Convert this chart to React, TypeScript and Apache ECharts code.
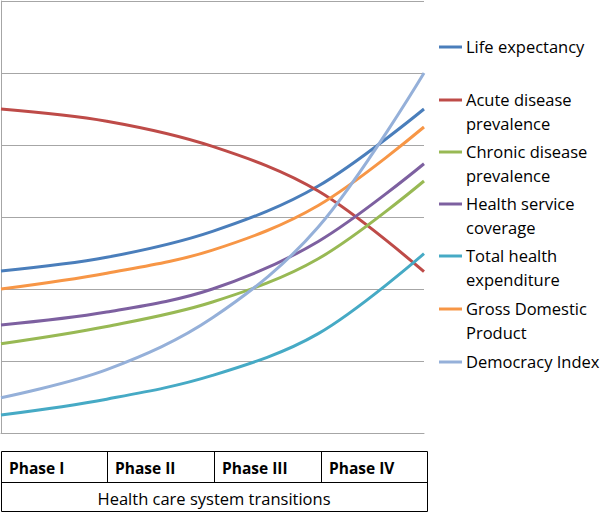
import React, { useEffect, useRef } from "react";
import * as echarts from "echarts";

const categories = ["P0", "P1", "P2", "P3", "P4"];
const lifeExpectancy = [2.25, 2.44, 2.8, 3.43, 4.5];
const acuteDisease = [4.5, 4.33, 3.98, 3.36, 2.24];
const chronicDisease = [1.24, 1.48, 1.82, 2.42, 3.5];
const healthCoverage = [1.5, 1.68, 2.0, 2.66, 3.74];
const totalExpenditure = [0.25, 0.47, 0.8, 1.38, 2.49];
const gdp = [2.0, 2.22, 2.54, 3.16, 4.25];
const democracy = [0.49, 0.88, 1.6, 2.86, 5.0];

const seriesNames = [
  "Life expectancy",
  "Acute disease\nprevalence",
  "Chronic disease\nprevalence",
  "Health service\ncoverage",
  "Total health\nexpenditure",
  "Gross Domestic\nProduct",
  "Democracy Index",
];
const seriesData = [lifeExpectancy, acuteDisease, chronicDisease, healthCoverage, totalExpenditure, gdp, democracy];
const colors = ["#4A7EBB", "#BE4B48", "#98B954", "#7D60A0", "#46AAC5", "#F79646", "#95B0D9"];
const legendY = [47, 100, 152, 204, 256, 309, 362];
const phases = ["Phase I", "Phase II", "Phase III", "Phase IV"];
const xTitle = "Health care system transitions";

export default function App() {
  const ref = useRef<HTMLDivElement>(null);
  useEffect(() => {
    const chart = echarts.init(ref.current!, null, { renderer: "svg" });
    const font = "'Open Sans', sans-serif";
    const graphics: any[] = [];
    seriesNames.forEach((n, i) => {
      graphics.push({
        type: "line",
        shape: { x1: 439, y1: legendY[i], x2: 462, y2: legendY[i] },
        style: { stroke: colors[i], lineWidth: 3 },
      });
      graphics.push({
        type: "text",
        x: 466,
        y: legendY[i] - 12,
        style: {
          text: n,
          font: `16.5px ${font}`,
          fill: "#000",
          lineHeight: 23.5,
          verticalAlign: "top",
          align: "left",
        },
      });
    });
    // table
    const tx0 = 1, tx1 = 427, ty0 = 451, ty1 = 482, ty2 = 512;
    graphics.push({
      type: "rect",
      shape: { x: tx0 + 0.5, y: ty0 + 0.5, width: tx1 - tx0, height: ty2 - ty0 - 1 },
      style: { fill: "none", stroke: "#000", lineWidth: 1 },
    });
    graphics.push({
      type: "line",
      shape: { x1: tx0, y1: ty1 + 0.5, x2: tx1 + 1, y2: ty1 + 0.5 },
      style: { stroke: "#000", lineWidth: 1 },
    });
    const divs = [107, 214, 321];
    divs.forEach((d) => {
      graphics.push({
        type: "line",
        shape: { x1: d + 0.5, y1: ty0, x2: d + 0.5, y2: ty1 },
        style: { stroke: "#000", lineWidth: 1 },
      });
    });
    const starts = [tx0, 107, 214, 321];
    phases.forEach((p, i) => {
      graphics.push({
        type: "text",
        x: starts[i] + 8,
        y: (ty0 + ty1) / 2 + 1,
        style: {
          text: p,
          font: `bold 15.5px ${font}`,
          fill: "#000",
          verticalAlign: "middle",
          align: "left",
        },
      });
    });
    graphics.push({
      type: "text",
      x: (tx0 + tx1) / 2,
      y: (ty1 + ty2) / 2 + 1,
      style: {
        text: xTitle,
        font: `16.5px ${font}`,
        fill: "#000",
        verticalAlign: "middle",
        align: "center",
      },
    });

    chart.setOption({
      animation: false,
      grid: { left: 1, top: 1, width: 423, height: 432, containLabel: false },
      xAxis: {
        type: "category",
        data: categories,
        boundaryGap: false,
        axisLine: { show: true, lineStyle: { color: "#A6A6A6", width: 1 } },
        axisTick: { show: false },
        axisLabel: { show: false },
        splitLine: { show: false },
      },
      yAxis: {
        type: "value",
        min: 0,
        max: 6,
        interval: 1,
        axisLine: { show: true, lineStyle: { color: "#A6A6A6", width: 1 } },
        axisTick: { show: false },
        axisLabel: { show: false },
        splitLine: { show: true, lineStyle: { color: "#A6A6A6", width: 1 } },
      },
      series: seriesData.map((d, i) => ({
        name: seriesNames[i],
        type: "line",
        data: d,
        smooth: 0.35,
        showSymbol: false,
        symbol: "none",
        lineStyle: { color: colors[i], width: 3 },
        itemStyle: { color: colors[i] },
      })),
      graphic: graphics,
    });
    return () => chart.dispose();
  }, []);
  return (
    <div
      ref={ref}
      style={{ position: "fixed", left: 0, top: 0, width: 600, height: 513, background: "#fff" }}
    />
  );
}
